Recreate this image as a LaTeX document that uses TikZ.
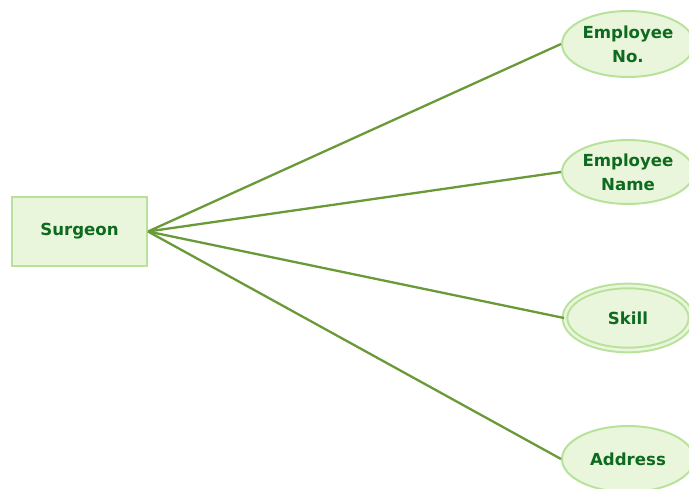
\documentclass[tikz,border=0pt]{standalone}
\usepackage{fontspec}
\setmainfont{DejaVu Sans}
\usetikzlibrary{shapes.geometric}
\definecolor{attrfill}{HTML}{E9F6DC}
\definecolor{attrdraw}{HTML}{B8E29C}
\definecolor{linkgreen}{HTML}{6A9A38}
\definecolor{textgreen}{HTML}{0E6A1E}

\begin{document}
\begin{tikzpicture}[x=1pt, y=1pt,
    entity/.style={draw=attrdraw, fill=attrfill, line width=2pt, minimum width=135pt, minimum height=69pt, text=textgreen, font=\fontsize{16.6}{24}\selectfont\bfseries},
    attr/.style={ellipse, draw=attrdraw, fill=attrfill, line width=2pt, minimum width=132pt, minimum height=66pt, inner sep=0pt, align=center, text=textgreen, font=\fontsize{16.6}{24}\selectfont\bfseries},
    link/.style={draw=linkgreen, line width=2.3pt}]
    \useasboundingbox (0, 0) rectangle (689, 488);
    \clip (0, 0) rectangle (689, 488);

    \node[entity] (surgeon) at (79.5, 256.5) {Surgeon};

    \node[attr] (empno) at (628, 444) {Employee\\No.};
    \node[attr, minimum height=64pt] (empname) at (628, 316) {Employee\\Name};
    \node[attr, minimum width=126pt, minimum height=64pt, double=attrfill, double distance=2.6pt] (skill) at (628, 170) {Skill};
    \node[attr] (address) at (628, 29) {Address};

    \draw[link] (surgeon.east) to (empno.west);
    \draw[link] (surgeon.east) to (empname.west);
    \draw[link] (surgeon.east) to (skill.west);
    \draw[link] (surgeon.east) to (address.west);
\end{tikzpicture}
\end{document}
